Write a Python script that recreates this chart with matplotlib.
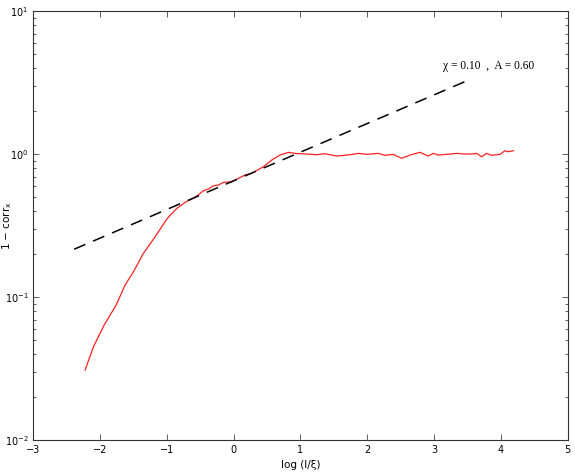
import matplotlib
matplotlib.use("Agg")
import matplotlib.pyplot as plt
from matplotlib.ticker import LogLocator, FixedLocator

# red curve: 1 - corr_x vs log(l/xi)
log_l = [-2.225, -2.100, -1.940, -1.760, -1.626, -1.501, -1.352, -1.177,
         -0.993, -0.852, -0.713, -0.578, -0.454, -0.379, -0.304, -0.229,
         -0.154, -0.028, 0.070, 0.171, 0.271, 0.445, 0.570, 0.695, 0.819,
         0.919, 1.094, 1.244, 1.368, 1.543, 1.743, 1.867, 1.993, 2.166,
         2.266, 2.391, 2.516, 2.641, 2.790, 2.915, 2.990, 3.064, 3.190,
         3.340, 3.449, 3.564, 3.639, 3.714, 3.789, 3.864, 3.988, 4.063,
         4.112, 4.187]
one_minus_corr = [0.031, 0.0451, 0.064, 0.0883, 0.122, 0.151, 0.203, 0.265,
                  0.357, 0.419, 0.466, 0.500, 0.556, 0.572, 0.603, 0.610,
                  0.637, 0.643, 0.679, 0.717, 0.737, 0.819, 0.912, 0.989,
                  1.033, 1.016, 1.005, 0.994, 1.010, 0.973, 0.994, 1.016,
                  1.000, 1.016, 0.984, 1.000, 0.938, 0.989, 1.033, 0.973,
                  1.016, 0.989, 1.000, 1.016, 1.005, 1.005, 1.016, 0.962,
                  1.016, 0.984, 1.000, 1.060, 1.043, 1.060]

# power-law fit line (end points)
fit_x = [-2.39, 3.50]
fit_y = [0.217, 3.28]
fit_label = "\u03c7 = 0.10  ,  A = 0.60"

x_ticks = [-3, -2, -1, 0, 1, 2, 3, 4, 5]
x_ticklabels = ["\u22123", "\u22122", "\u22121", "0", "1", "2", "3", "4", "5"]

fig = plt.figure(figsize=(5.75, 4.73), dpi=100)
ax = fig.add_axes([0.058, 0.069, 0.929, 0.907])

ax.plot(log_l, one_minus_corr, color="#ff2020", lw=0.9)
ax.plot(fit_x, fit_y, color="black", lw=1.1, dashes=(8, 5.5))
ax.text(3.13, 4.17, fit_label, family="Liberation Serif", fontsize=8.3,
        va="center", ha="left")

ax.set_yscale("log")
ax.set_xlim(-3, 5)
ax.set_ylim(1e-2, 1e1)
ax.xaxis.set_major_locator(FixedLocator(x_ticks))
ax.set_xticklabels(x_ticklabels)
ax.yaxis.set_major_locator(LogLocator(base=10, numticks=10))
ax.yaxis.set_minor_locator(LogLocator(base=10, subs=range(2, 10), numticks=20))

ax.tick_params(which="both", direction="in", top=True, right=True,
               labelsize=7, color="#444444")
ax.tick_params(which="major", length=4, width=0.6)
ax.tick_params(which="minor", length=2.5, width=0.6)
for s in ax.spines.values():
    s.set_linewidth(0.8)
    s.set_color("#333333")

ax.set_xlabel("log (l/\u03be)", fontsize=7.5)
ax.xaxis.set_label_coords(0.5, -0.046)
ax.set_ylabel("1 \u2212 corr$_\\mathregular{x}$", fontsize=7.5)
ax.yaxis.set_label_coords(-0.036, 0.5)

fig.savefig("out.png", dpi=100)
